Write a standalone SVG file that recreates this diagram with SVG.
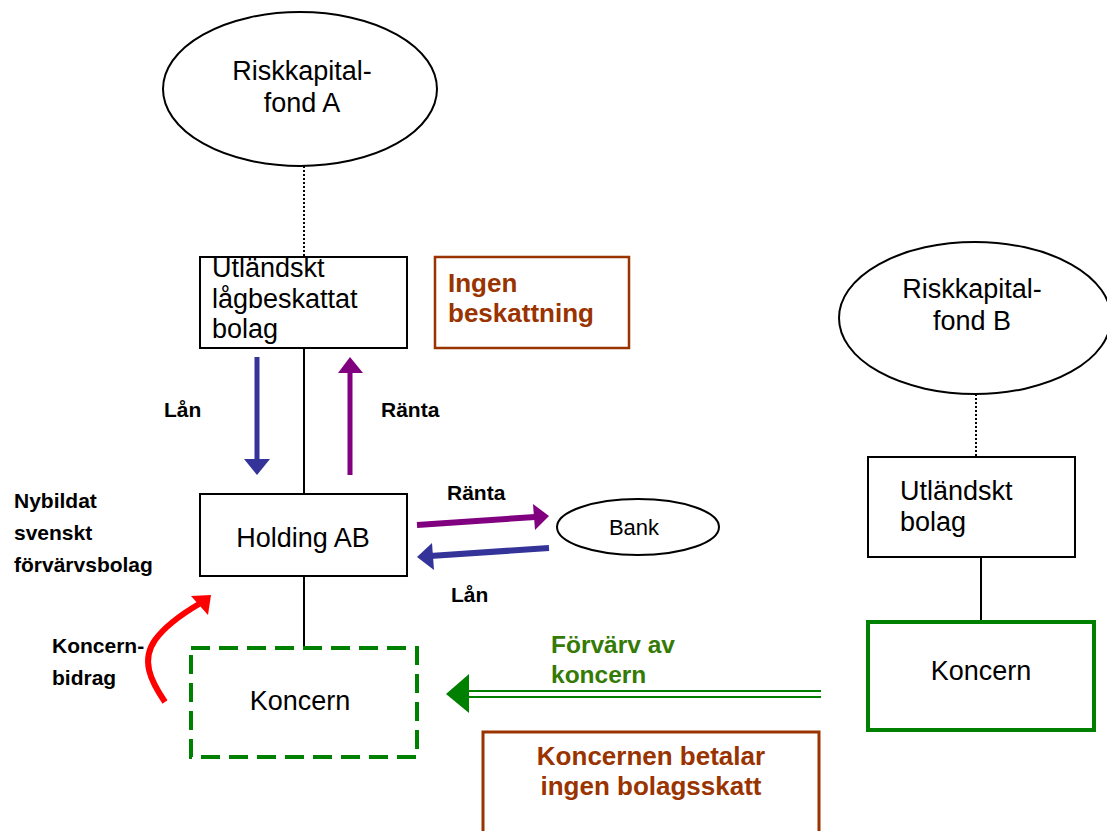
<svg xmlns="http://www.w3.org/2000/svg" width="1107" height="831" viewBox="0 0 1107 831">
  <style>
    .node { fill: #fff; stroke: #000; stroke-width: 2; }
    .t { font-family: "Liberation Sans", Arial, sans-serif; font-size: 27px; fill: #000; }
    .c { text-anchor: middle; }
    .lbl { font-family: "Liberation Sans", Arial, sans-serif; font-size: 21px; font-weight: bold; fill: #000; }
    .note { font-family: "Liberation Sans", Arial, sans-serif; font-size: 26px; font-weight: bold; fill: #993300; }
    .green-lbl { font-family: "Liberation Sans", Arial, sans-serif; font-size: 24.5px; font-weight: bold; fill: #347a05; }
    .link { stroke: #000; stroke-width: 2; fill: none; }
    .dotted { stroke: #000; stroke-width: 2; stroke-dasharray: 2 2; fill: none; }
  </style>
  <rect width="1107" height="831" fill="#fff"/>

  <!-- connectors -->
  <g id="connectors">
    <line class="dotted" x1="304" y1="166" x2="304" y2="257"/>
    <line class="link" x1="304" y1="348" x2="304" y2="494"/>
    <line class="link" x1="304" y1="576" x2="304" y2="648"/>
    <line class="dotted" x1="976" y1="394" x2="976" y2="457"/>
    <line class="link" x1="981" y1="557" x2="981" y2="622"/>

    <!-- Lån down (blue) -->
    <line x1="257" y1="357" x2="257" y2="461" stroke="#333399" stroke-width="5"/>
    <polygon points="244,459 270,459 257,475" fill="#333399"/>
    <!-- Ränta up (purple) -->
    <line x1="350" y1="475" x2="350" y2="371" stroke="#800080" stroke-width="5"/>
    <polygon points="338,373 363,373 350,357" fill="#800080"/>
    <!-- Ränta to bank (purple) -->
    <line x1="417" y1="525" x2="535" y2="517" stroke="#800080" stroke-width="6"/>
    <polygon points="533,504 535,530 549,516" fill="#800080"/>
    <!-- Lån from bank (blue) -->
    <line x1="549" y1="548" x2="430" y2="556" stroke="#333399" stroke-width="6"/>
    <polygon points="432,543 434,570 417,557" fill="#333399"/>

    <!-- Koncernbidrag (red curved) -->
    <path d="M165,702 C150,680 141,660 155,640 C166,625 182,614 199,604" stroke="#ff0000" stroke-width="6" fill="none"/>
    <polygon points="211,595 191,596 208,615" fill="#ff0000"/>

    <!-- Förvärv av koncern (green double line) -->
    <line x1="466" y1="691" x2="821" y2="691" stroke="#008000" stroke-width="2"/>
    <line x1="466" y1="697" x2="821" y2="697" stroke="#008000" stroke-width="2"/>
    <polygon points="446,694 469,674 469,713" fill="#008000"/>
  </g>

  <g id="fond-a">
    <ellipse class="node" cx="300" cy="89" rx="137" ry="77"/>
    <text class="t c" x="302" y="80">Riskkapital-</text>
    <text class="t c" x="302" y="112">fond A</text>
  </g>

  <g id="utlandskt-lagbeskattat">
    <rect class="node" x="200" y="257" width="207" height="91"/>
    <text class="t" x="212" y="277">Utländskt</text>
    <text class="t" x="212" y="308">lågbeskattat</text>
    <text class="t" x="212" y="338">bolag</text>
  </g>

  <g id="ingen-beskattning">
    <rect x="435" y="257" width="194" height="91" fill="#fff" stroke="#993300" stroke-width="2.5"/>
    <text class="note" x="448" y="292">Ingen</text>
    <text class="note" x="448" y="322">beskattning</text>
  </g>

  <g id="labels-upper">
    <text class="lbl" x="164" y="417">Lån</text>
    <text class="lbl" x="381" y="417">Ränta</text>
    <text class="lbl" x="14" y="508">Nybildat</text>
    <text class="lbl" x="14" y="540">svenskt</text>
    <text class="lbl" x="14" y="572">förvärvsbolag</text>
    <text class="lbl" x="447" y="500">Ränta</text>
    <text class="lbl" x="451" y="602">Lån</text>
    <text class="lbl" x="52" y="653">Koncern-</text>
    <text class="lbl" x="52" y="685">bidrag</text>
  </g>

  <g id="holding-ab">
    <rect class="node" x="200" y="494" width="207" height="82"/>
    <text class="t c" x="303" y="547">Holding AB</text>
  </g>

  <g id="bank">
    <ellipse class="node" cx="638" cy="527" rx="81" ry="28"/>
    <text class="t c" x="634" y="535" style="font-size:22px">Bank</text>
  </g>

  <g id="koncern-a">
    <rect x="191" y="648" width="226" height="109" fill="#fff" stroke="#008000" stroke-width="4" stroke-dasharray="19 9"/>
    <text class="t c" x="300" y="710">Koncern</text>
  </g>

  <g id="forvarv-label">
    <text class="green-lbl" x="551" y="653">Förvärv av</text>
    <text class="green-lbl" x="551" y="683">koncern</text>
  </g>

  <g id="koncernen-betalar">
    <rect x="483" y="732" width="336" height="120" fill="#fff" stroke="#993300" stroke-width="3"/>
    <text class="note c" x="651" y="765">Koncernen betalar</text>
    <text class="note c" x="651" y="795">ingen bolagsskatt</text>
  </g>

  <g id="fond-b">
    <ellipse class="node" cx="975" cy="318" rx="136" ry="76"/>
    <text class="t c" x="972" y="298">Riskkapital-</text>
    <text class="t c" x="972" y="330">fond B</text>
  </g>

  <g id="utlandskt-bolag">
    <rect class="node" x="868" y="457" width="207" height="100"/>
    <text class="t" x="900" y="500">Utländskt</text>
    <text class="t" x="900" y="531">bolag</text>
  </g>

  <g id="koncern-b">
    <rect x="868" y="622" width="226" height="108" fill="#fff" stroke="#008000" stroke-width="4"/>
    <text class="t c" x="981" y="680">Koncern</text>
  </g>
</svg>
